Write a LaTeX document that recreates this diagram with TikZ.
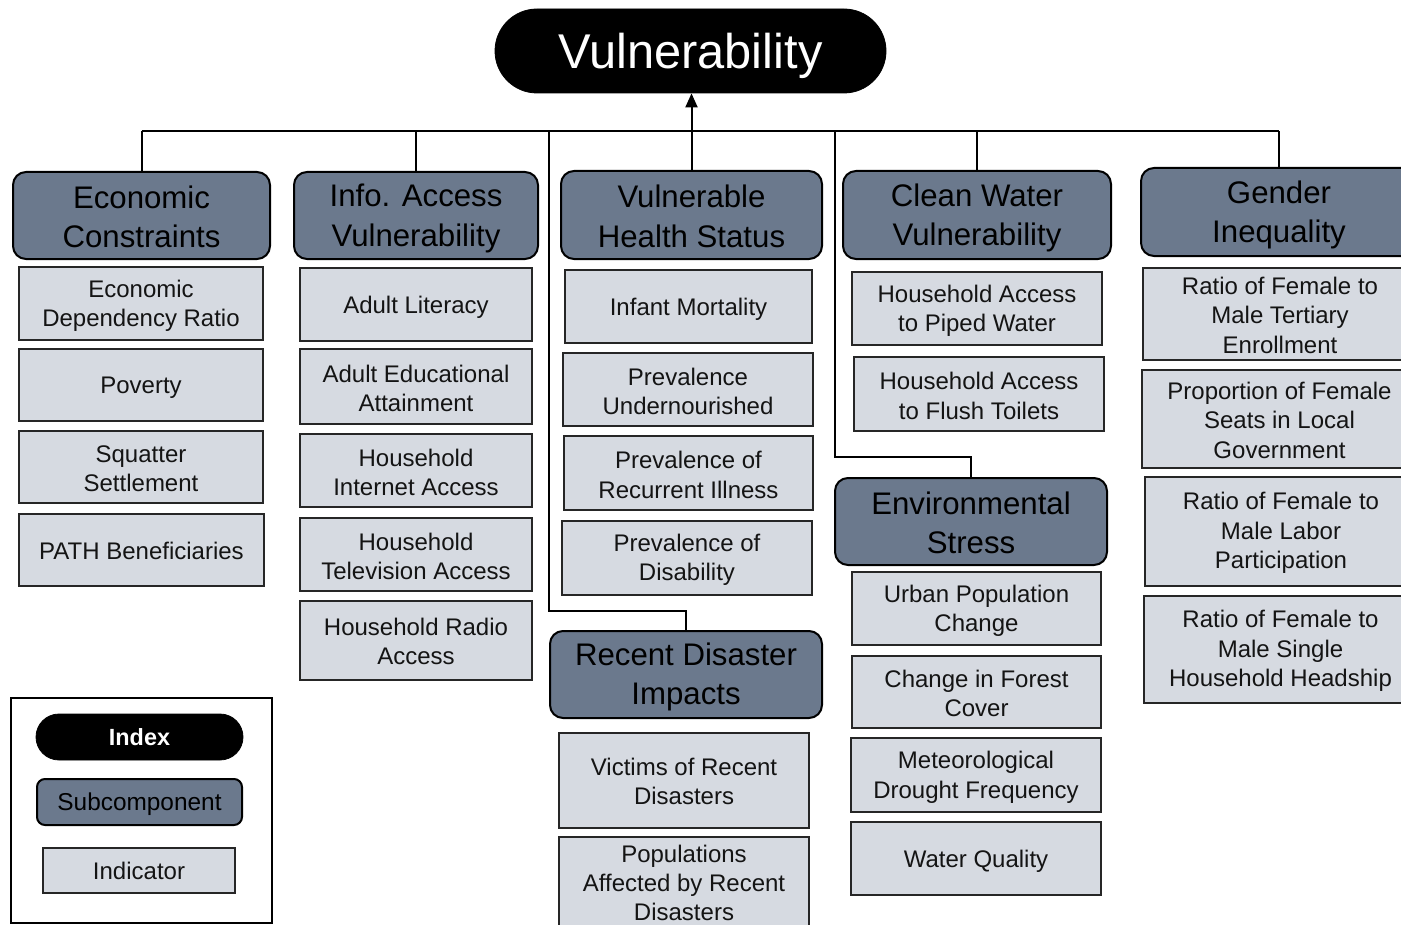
\documentclass[tikz,border=0pt]{standalone}
\usepackage{fontspec}
\setmainfont{Liberation Sans}
\usetikzlibrary{arrows.meta}
\definecolor{subfill}{RGB}{107,121,141}
\definecolor{indfill}{RGB}{214,218,225}
\tikzset{
  sub/.style={draw=black, line width=1pt, fill=subfill, rounded corners=6.5pt, align=center, inner sep=0pt, text=black, font=\fontsize{15.6}{19.8}\selectfont},
  ind/.style={draw=black!85, line width=1.1pt, fill=indfill, align=center, inner sep=0pt, text=black!92, font=\fontsize{12}{14.7}\selectfont},
  idx/.style={fill=black, draw=black, text=white, align=center, inner sep=0pt},
  conn/.style={line width=1pt, draw=black},
}
% #1 style, #2 name, #3-#6 corners (px), #7 text, #8 text shift
\newcommand\boxat[8]{%
  \node[#1, minimum width={(#5-#3)*0.5pt}, minimum height={(#6-#4)*0.5pt}] (#2) at ({(#3+#5)/2},{(#4+#6)/2}) {};
  \node[#1, draw=none, fill=none, yshift=-#8] (#2-t) at (#2.center) {#7};}
\begin{document}
\begin{tikzpicture}[x=0.5pt,y=-0.5pt]
\useasboundingbox (0,0) rectangle (1401,925);
\clip (0,0) rectangle (1401,925);

% index
\boxat{idx, rounded corners=21pt, font=\fontsize{24.4}{28}\selectfont}{top}{495}{9}{886}{93}{Vulnerability}{2.5pt}

% subcomponents
\boxat{sub}{ec}{13}{172}{270}{259}{Economic\\Constraints}{0.6pt}
\boxat{sub}{iav}{294}{172}{538}{259}{Info. Access\\Vulnerability}{1.4pt}
\boxat{sub}{vhs}{561}{171}{822}{259}{Vulnerable\\Health Status}{0.6pt}
\boxat{sub}{cwv}{843}{171}{1111}{259}{Clean Water\\Vulnerability}{1.4pt}
\boxat{sub}{gi}{1141}{168}{1417}{256}{Gender\\Inequality}{1.4pt}
\boxat{sub}{es}{835}{478}{1107}{565}{Environmental\\Stress}{0.6pt}
\boxat{sub}{rdi}{550}{631}{822}{718}{Recent Disaster\\Impacts}{1.2pt}

% indicators column 1
\boxat{ind}{edr}{19}{267}{263}{340}{Economic\\Dependency Ratio}{1pt}
\boxat{ind}{pov}{19}{349}{263}{421}{Poverty}{1.2pt}
\boxat{ind}{sq}{19}{431}{263}{503}{Squatter\\Settlement}{1pt}
\boxat{ind}{path}{19}{514}{264}{586}{PATH Beneficiaries}{0.6pt}
% column 2
\boxat{ind}{al}{300}{268}{532}{341}{Adult Literacy}{1.2pt}
\boxat{ind}{aea}{300}{349}{532}{424}{Adult Educational\\Attainment}{1pt}
\boxat{ind}{hia}{300}{434}{532}{507}{Household\\Internet Access}{1pt}
\boxat{ind}{hta}{300}{518}{532}{591}{Household\\Television Access}{1pt}
\boxat{ind}{hra}{300}{601}{532}{680}{Household Radio\\Access}{0.6pt}
% column 3
\boxat{ind}{im}{565}{270}{812}{343}{Infant Mortality}{1.2pt}
\boxat{ind}{pu}{563}{353}{813}{426}{Prevalence\\Undernourished}{1pt}
\boxat{ind}{pri}{564}{436}{813}{510}{Prevalence of\\Recurrent Illness}{1pt}
\boxat{ind}{pd}{562}{521}{812}{595}{Prevalence of\\Disability}{1pt}
\boxat{ind}{vrd}{559}{733}{809}{828}{Victims of Recent\\Disasters}{0.6pt}
\boxat{ind}{par}{559}{837}{809}{932}{Populations\\Affected by Recent\\Disasters}{-0.8pt}
% column 4
\boxat{ind}{hpw}{852}{272}{1102}{345}{Household Access\\to Piped Water}{1pt}
\boxat{ind}{hft}{854}{357}{1104}{431}{Household Access\\to Flush Toilets}{1pt}
\boxat{ind}{upc}{852}{572}{1101}{645}{Urban Population\\Change}{1pt}
\boxat{ind}{cfc}{852}{656}{1101}{728}{Change in Forest\\Cover}{0.6pt}
\boxat{ind}{mdf}{851}{738}{1101}{812}{Meteorological\\Drought Frequency}{1.2pt}
\boxat{ind}{wq}{851}{822}{1101}{895}{Water Quality}{1.2pt}
% column 5
\boxat{ind}{rt}{1143}{268}{1417}{360}{Ratio of Female to\\Male Tertiary\\Enrollment}{0.6pt}
\boxat{ind}{pfs}{1142}{370}{1417}{468}{Proportion of Female\\Seats in Local\\Government}{0.6pt}
\boxat{ind}{rlp}{1145}{477}{1417}{586}{Ratio of Female to\\Male Labor\\Participation}{0.8pt}
\boxat{ind}{rsh}{1144}{596}{1417}{703}{Ratio of Female to\\Male Single\\Household Headship}{0.8pt}

% connectors
\coordinate (bus) at (690,131);
\coordinate (busA) at (549,131);
\coordinate (busB) at (835,131);
\coordinate (rdiel) at (686,611);
\coordinate (envel) at (971,457);
\draw[conn] (ec.north |- bus) -- (gi.north |- bus);
\draw[conn] (ec.north) -- (ec.north |- bus);
\draw[conn] (iav.north) -- (iav.north |- bus);
\draw[conn] (cwv.north) -- (cwv.north |- bus);
\draw[conn] (gi.north) -- (gi.north |- bus);
\draw[conn] (busA) |- (rdiel) -- (rdi.north);
\draw[conn] (busB) |- (envel) -- (es.north);
\draw[conn, -{Triangle[length=7pt,width=6pt]}] (vhs.north) -- (vhs.north |- top.south);

% legend
\node[draw=black, line width=1.3pt, minimum width={261*0.5pt}, minimum height={225*0.5pt}, inner sep=0pt] (legend) at (141.5,810.5) {};
\boxat{idx, rounded corners=11.5pt, font=\bfseries\fontsize{11.7}{14}\selectfont}{lidx}{36}{714}{243}{760}{Index}{0pt}
\boxat{sub, rounded corners=4pt, font=\fontsize{12.2}{14.7}\selectfont}{lsub}{37}{779}{242}{825}{Subcomponent}{1.2pt}
\boxat{ind}{lind}{43}{848}{235}{893}{Indicator}{0pt}
\end{tikzpicture}
\end{document}
